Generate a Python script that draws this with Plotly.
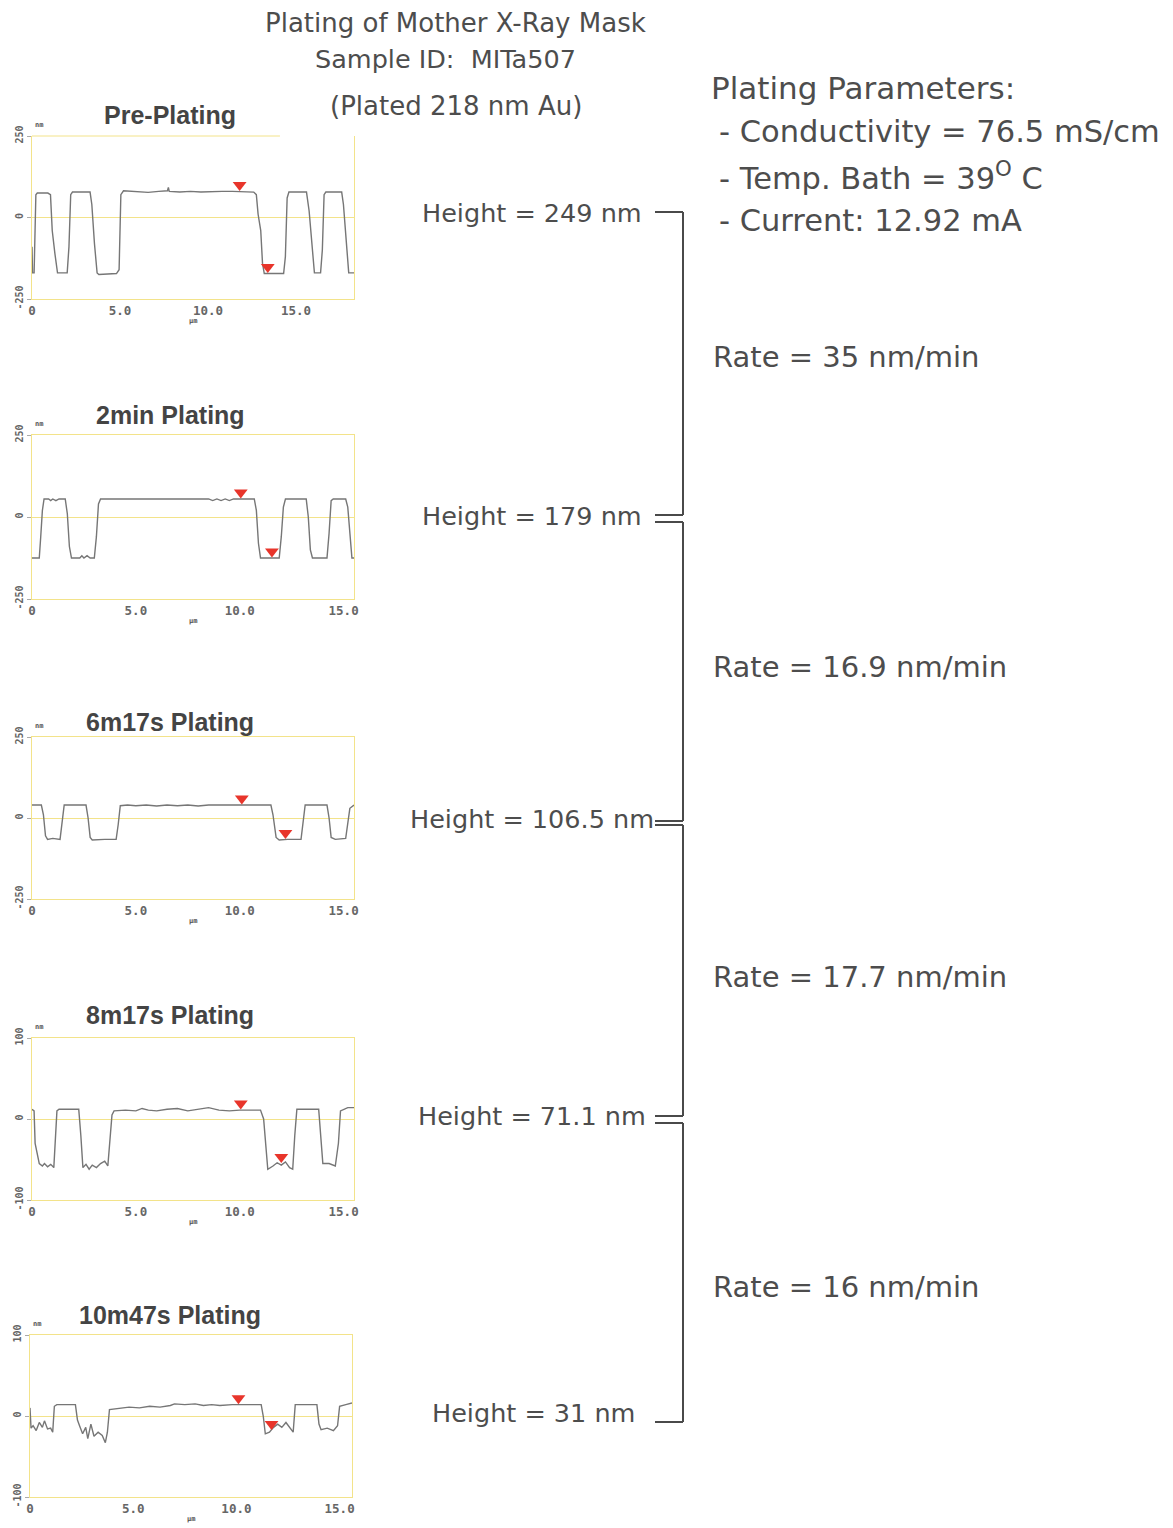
import plotly.graph_objects as go

W, H = 1173, 1528

# ---------------- data ----------------
PANEL_TITLES = ["Pre-Plating", "2min Plating", "6m17s Plating", "8m17s Plating", "10m47s Plating"]
Y_LIMITS = [250, 250, 250, 100, 100]
X_MAX = [18.3, 15.5, 15.5, 15.5, 15.6]
X_TICKS = [0, 5, 10, 15]
X_TICK_TEXT = ["0", "5.0", "10.0", "15.0"]

P1_X = [0.0, 0.03, 0.12, 0.18, 0.22, 0.3, 0.9, 1.05, 1.15, 1.3, 1.45, 2.0, 2.1, 2.2, 2.3, 3.3, 3.4, 3.55, 3.7,
        3.8, 4.8, 4.95, 5.05, 5.2, 6.0, 6.6, 7.2, 7.7, 7.75, 7.8, 8.4, 9.0, 9.6, 10.2, 10.8, 11.4, 12.0, 12.6,
        12.75, 12.85, 13.0, 13.1, 13.2, 14.3, 14.4, 14.5, 14.6, 15.6, 15.75, 15.9, 16.05, 16.4, 16.5, 16.6,
        16.7, 17.6, 17.7, 17.9, 18.0, 18.3]
P1_Y = [-90, -170, -170, -20, 70, 75, 75, 70, -40, -110, -170, -170, -90, 70, 78, 78, 40, -80, -170,
        -175, -172, -160, 70, 82, 80, 77, 80, 82, 92, 80, 78, 80, 78, 80, 80, 80, 80, 78,
        70, 10, -40, -140, -172, -172, -120, 60, 78, 78, 20, -80, -170, -170, -100, 70,
        78, 78, 40, -100, -170, -170]

P2_X = [0.0, 0.35, 0.42, 0.5, 0.58, 0.8, 0.9, 1.0, 1.15, 1.3, 1.6, 1.7, 1.8, 1.9, 2.3, 2.4, 2.5, 2.65, 2.8,
        3.0, 3.1, 3.2, 3.3, 5.0, 7.0, 8.5, 8.7, 8.9, 9.1, 9.3, 9.5, 9.7, 10.5, 10.7, 10.8, 10.9, 11.0, 11.9,
        12.0, 12.1, 12.2, 13.2, 13.3, 13.4, 13.5, 14.2, 14.3, 14.4, 14.5, 15.1, 15.2, 15.3, 15.4, 15.5]
P2_Y = [-125, -125, -60, 20, 55, 55, 50, 55, 50, 55, 55, 10, -90, -125, -125, -118, -125, -118, -125,
        -125, -60, 40, 55, 55, 55, 55, 50, 55, 50, 55, 50, 55, 55, 55, 20, -80, -125, -125,
        -60, 30, 55, 55, 0, -100, -125, -125, -50, 50, 55, 55, 30, -60, -125, -125]

P3_X = [0.0, 0.45, 0.55, 0.65, 0.75, 1.0, 1.35, 1.45, 1.55, 2.6, 2.7, 2.8, 2.9, 3.5, 4.05, 4.15, 4.25, 4.6,
        5.0, 5.5, 6.0, 6.5, 7.0, 7.5, 8.0, 8.5, 9.0, 10.0, 11.5, 11.6, 11.75, 11.9, 12.3, 12.95, 13.05,
        13.15, 14.2, 14.3, 14.4, 14.6, 15.1, 15.2, 15.3, 15.5]
P3_Y = [40, 40, 10, -55, -66, -63, -66, -20, 40, 40, 0, -60, -68, -66, -66, -20, 38, 40,
        38, 40, 37, 40, 38, 40, 37, 40, 40, 40, 40, 10, -60, -68, -66, -66, -10,
        40, 40, 0, -60, -66, -63, -20, 30, 40]

P4_X = [0.0, 0.1, 0.15, 0.25, 0.35, 0.5, 0.6, 0.75, 0.9, 1.05, 1.12, 1.2, 1.3, 2.25, 2.35, 2.45, 2.6, 2.75,
        2.9, 3.1, 3.3, 3.5, 3.65, 3.75, 3.85, 3.95, 4.5, 5.0, 5.3, 5.6, 6.0, 6.5, 7.0, 7.5, 8.0, 8.5, 9.0,
        9.5, 10.0, 11.0, 11.15, 11.25, 11.35, 11.6, 11.8, 12.0, 12.2, 12.4, 12.55, 12.65, 12.75, 13.8,
        13.9, 14.0, 14.3, 14.6, 14.75, 14.85, 15.2, 15.6]
P4_Y = [12, 10, -30, -45, -55, -58, -55, -59, -56, -60, -30, 10, 12, 12, -20, -60, -56, -62,
        -57, -60, -55, -52, -58, -30, 5, 10, 11, 10, 13, 11, 10, 12, 13, 10, 12, 14, 11,
        10, 11, 11, 0, -35, -62, -58, -54, -57, -53, -60, -62, -20, 12, 12,
        -20, -55, -55, -58, -30, 10, 14, 14]

P5_X = [0.0, 0.05, 0.15, 0.3, 0.45, 0.6, 0.7, 0.85, 1.0, 1.1, 1.18, 1.3, 2.2, 2.3, 2.4, 2.55, 2.7, 2.8,
        2.95, 3.1, 3.3, 3.5, 3.65, 3.75, 3.85, 4.3, 4.8, 5.3, 5.8, 6.3, 6.8, 7.0, 7.5, 8.0, 8.4, 8.8, 9.2,
        9.8, 10.5, 11.2, 11.3, 11.4, 11.6, 11.8, 12.0, 12.2, 12.4, 12.6, 12.75, 12.85, 13.9, 14.0, 14.1,
        14.4, 14.7, 14.9, 15.0, 15.3, 15.6]
P5_Y = [10, -15, -12, -18, -8, -14, -6, -16, -15, -20, 12, 14, 14, -5, -12, -22, -14, -28,
        -10, -25, -20, -24, -33, -20, 8, 9, 11, 10, 12, 11, 13, 15, 14, 15, 13, 14, 13,
        14, 14, 14, 0, -22, -20, -14, -10, -14, -8, -15, -20, 14, 14, -10, -17,
        -15, -18, -12, 12, 14, 16]

PROFILES_X = [P1_X, P2_X, P3_X, P4_X, P5_X]
PROFILES_Y = [P1_Y, P2_Y, P3_Y, P4_Y, P5_Y]

CURSOR_X = [[11.8, 13.4], [10.05, 11.55], [10.1, 12.2], [10.05, 12.0], [10.1, 11.7]]
CURSOR_Y = [[80, -172], [55, -125], [40, -66], [11, -55], [14, -18]]

HEIGHT_LABELS = ["Height = 249 nm", "Height = 179 nm", "Height = 106.5 nm",
                 "Height = 71.1 nm", "Height = 31 nm"]
RATE_LABELS = ["Rate = 35 nm/min", "Rate = 16.9 nm/min", "Rate = 17.7 nm/min", "Rate = 16 nm/min"]

TITLE_LINES = ["Plating of Mother X-Ray Mask", "Sample ID:  MITa507", "(Plated 218 nm Au)"]
PARAM_LINES = ["Plating Parameters:", "- Conductivity = 76.5 mS/cm",
               "- Temp. Bath = 39<sup>O</sup> C", "- Current: 12.92 mA"]

# ---------------- layout geometry (pixels) ----------------
BOXES = [(32, 354, 136, 299), (32, 354, 435, 599), (32, 354, 737, 899),
         (32, 354, 1038, 1200), (30, 352, 1335, 1497)]
PANEL_TITLE_Y = [115, 415, 722, 1015, 1315]
HEIGHT_Y = [213, 516, 819, 1116, 1413]
HEIGHT_RIGHT = [644, 644, 656, 648, 637]
RATE_Y = [357, 667, 977, 1287]
RATE_LEFT = 711
BRACKETS = [(212, 515), (522, 821), (825, 1116), (1123, 1422)]

TXT = "#4d4d4d"
YEL = "#f3e38a"
SANS = "DejaVu Sans"
MONO = "DejaVu Sans Mono"


def px(x):
    return x / W


def py(y):
    return 1 - y / H


fig = go.Figure()
annotations = []
shapes = []

for i in range(5):
    n = "" if i == 0 else str(i + 1)
    xa, ya = "x" + n, "y" + n
    l, r, t, b = BOXES[i]
    lim = Y_LIMITS[i]
    fig.add_trace(go.Scatter(x=PROFILES_X[i], y=PROFILES_Y[i], mode="lines",
                             line=dict(color="#767676", width=1.4),
                             xaxis=xa, yaxis=ya, showlegend=False, hoverinfo="skip"))
    off = 6.5 * 2 * lim / (b - t)
    fig.add_trace(go.Scatter(x=CURSOR_X[i], y=[v + off for v in CURSOR_Y[i]], mode="markers",
                             marker=dict(symbol="triangle-down", size=12, color="#e8352b",
                                         line=dict(width=0)),
                             xaxis=xa, yaxis=ya, showlegend=False, hoverinfo="skip"))
    fig.layout["xaxis" + n] = dict(
        domain=[px(l), px(r)], anchor=ya, range=[0, X_MAX[i]],
        tickvals=X_TICKS, ticktext=X_TICK_TEXT, ticks="",
        tickfont=dict(family=MONO, size=12.5, color="#666666", weight="bold"),
        showline=True, mirror=(i != 0), linecolor=YEL, linewidth=1,
        showgrid=False, zeroline=False, fixedrange=True, automargin=False)
    fig.layout["yaxis" + n] = dict(
        domain=[py(b), py(t)], anchor=xa, range=[-lim, lim],
        tickvals=[-lim, 0, lim], ticktext=[str(-lim), "0", str(lim)],
        ticks="outside", ticklen=4, tickcolor="#aaaaaa", tickangle=-90,
        tickfont=dict(family=MONO, size=10, color="#666666", weight="bold"),
        showline=True, mirror=True, linecolor=YEL, linewidth=1,
        showgrid=False, zeroline=True, zerolinecolor=YEL, zerolinewidth=1, fixedrange=True,
        automargin=False)
    if i == 0:
        # the first scan's top frame line stops short of the right edge
        shapes.append(dict(type="line", xref="x domain", yref="y domain",
                           x0=0, x1=0.77, y0=1, y1=1, line=dict(color=YEL, width=1)))
    # panel title
    annotations.append(dict(text=PANEL_TITLES[i], x=px(170), y=py(PANEL_TITLE_Y[i]),
                            xref="paper", yref="paper", xanchor="center", yanchor="middle",
                            showarrow=False,
                            font=dict(family="Liberation Sans", size=25, color="#444444",
                                      weight="bold")))
    # unit labels
    annotations.append(dict(text="nm", x=px(l + 7), y=py(t - 11), xref="paper", yref="paper",
                            xanchor="center", yanchor="middle", showarrow=False,
                            font=dict(family=MONO, size=7, color="#555555", weight="bold")))
    annotations.append(dict(text="µm", x=px(l + 161), y=py(b + 22), xref="paper", yref="paper",
                            xanchor="center", yanchor="middle", showarrow=False,
                            font=dict(family=MONO, size=7, color="#555555", weight="bold")))
    # height labels
    annotations.append(dict(text=HEIGHT_LABELS[i], x=px(HEIGHT_RIGHT[i]), y=py(HEIGHT_Y[i]),
                            xref="paper", yref="paper", xanchor="right", yanchor="middle",
                            showarrow=False, font=dict(family=SANS, size=25.5, color=TXT)))

for j, lab in enumerate(RATE_LABELS):
    annotations.append(dict(text=lab, x=px(RATE_LEFT), y=py(RATE_Y[j]), xref="paper", yref="paper",
                            xanchor="left", yanchor="middle", showarrow=False,
                            font=dict(family=SANS, size=29, color=TXT)))

for (top, bot) in BRACKETS:
    for (x0, y0, x1, y1) in [(655, top, 683, top), (683, top, 683, bot), (655, bot, 683, bot)]:
        shapes.append(dict(type="line", xref="paper", yref="paper",
                           x0=px(x0), y0=py(y0), x1=px(x1), y1=py(y1),
                           line=dict(color="#4a4a4a", width=2)))

TITLE_POS = [(456, 23, 26), (445, 59, 25.5), (456, 106, 26)]
for text, (cx, cy, fs) in zip(TITLE_LINES, TITLE_POS):
    annotations.append(dict(text=text, x=px(cx), y=py(cy), xref="paper", yref="paper",
                            xanchor="center", yanchor="middle", showarrow=False,
                            font=dict(family=SANS, size=fs, color=TXT)))

PARAM_POS = [(709, 88), (717, 132), (717, 176), (717, 220)]
for k, (text, (lx, ly)) in enumerate(zip(PARAM_LINES, PARAM_POS)):
    annotations.append(dict(text=text, x=px(lx), y=py(ly), xref="paper", yref="paper",
                            xanchor="left", yanchor="middle", showarrow=False,
                            font=dict(family=SANS, size=31 if k == 0 else 30.5, color=TXT)))

fig.update_layout(width=W, height=H, autosize=False,
                  margin=dict(l=0, r=0, t=0, b=0, pad=0, autoexpand=False),
                  paper_bgcolor="white", plot_bgcolor="white",
                  annotations=annotations, shapes=shapes, showlegend=False)

POST = ("document.documentElement.style.margin='0';"
        "document.documentElement.style.overflow='hidden';"
        "document.body.style.margin='0';"
        "document.body.style.overflow='hidden';"
        "var gd=document.getElementById('{plot_id}');"
        "gd.style.position='fixed';gd.style.left='0px';gd.style.top='0px';")

fig.write_html("out.html", config={"displayModeBar": False}, post_script=POST)
